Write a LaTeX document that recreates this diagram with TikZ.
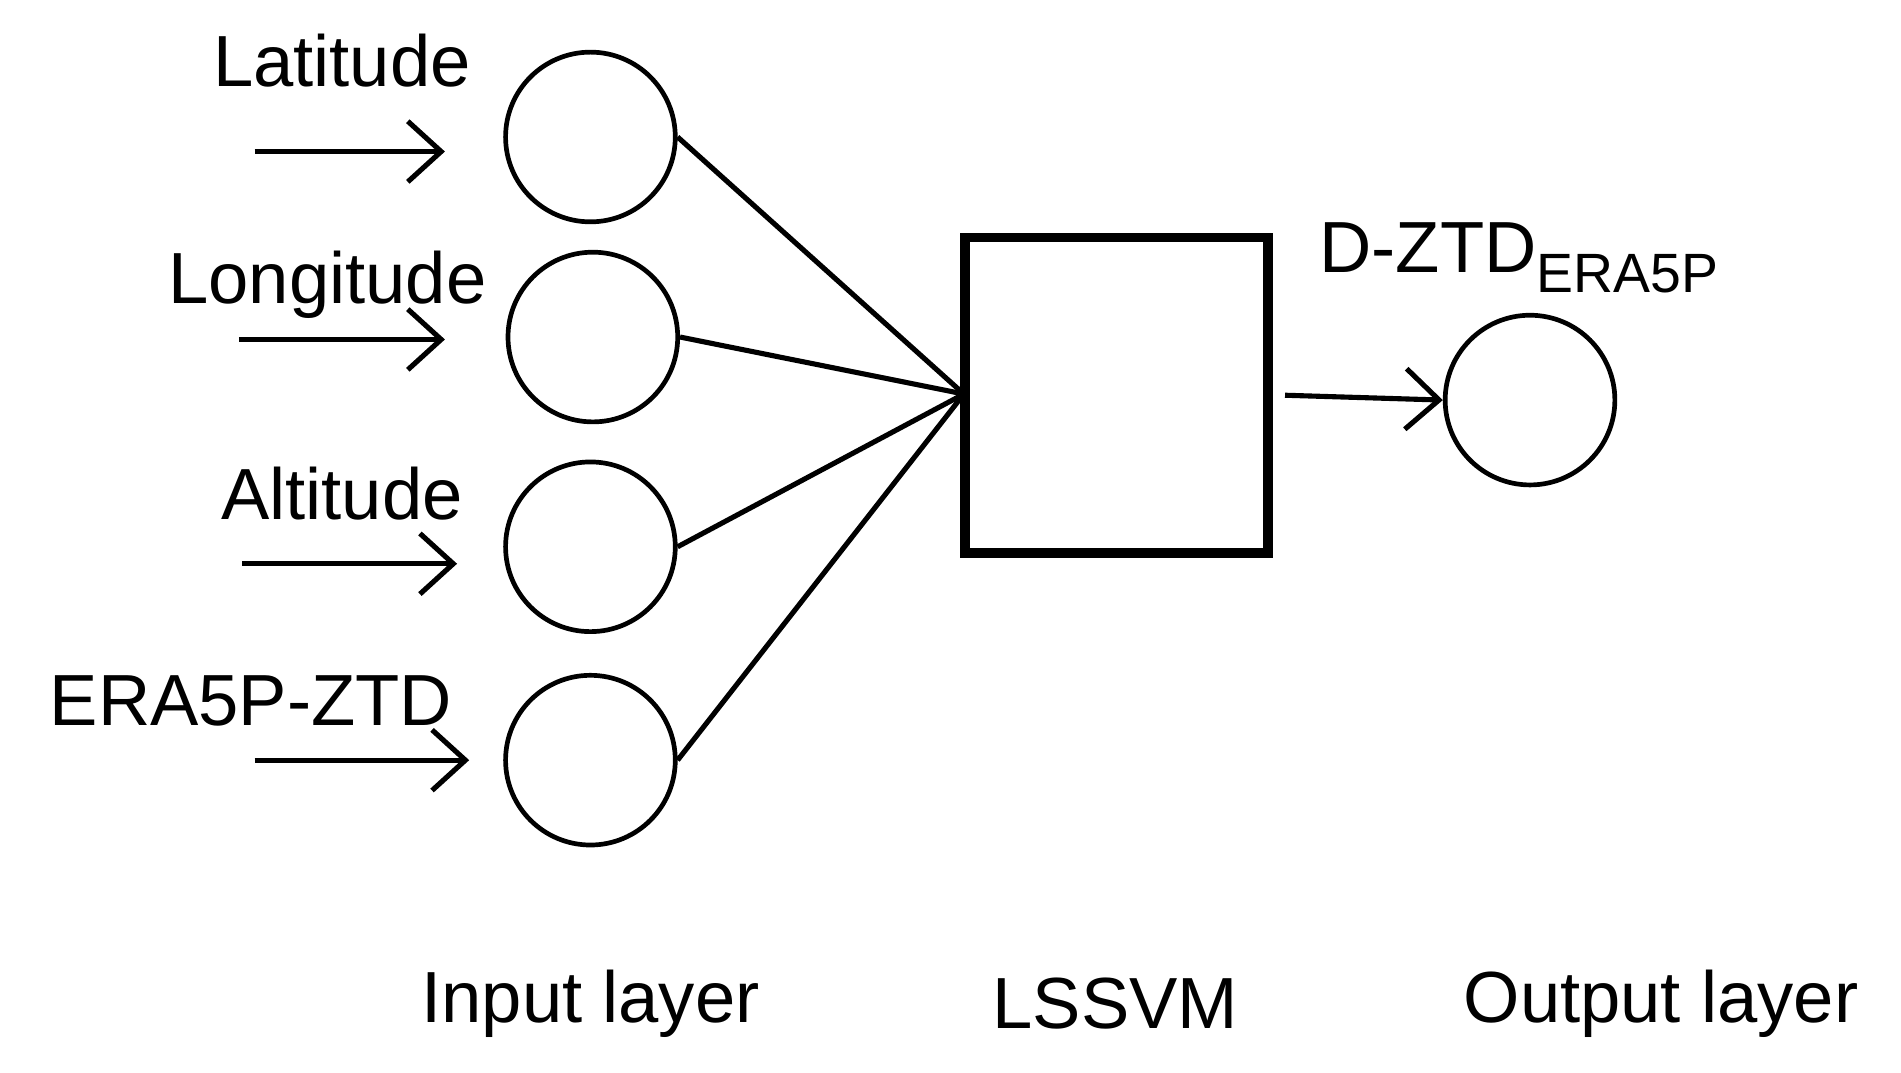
\documentclass[tikz,border=0pt]{standalone}
\usepackage{fontspec}
\setmainfont{Liberation Sans}
\usetikzlibrary{arrows.meta}
\begin{document}
\begin{tikzpicture}[x=0.02cm,y=-0.02cm,
  neuron/.style={draw,circle,minimum size=2.8cm,inner sep=0pt,line width=2.2pt},
  lbl/.style={font=\fontsize{34}{40}\selectfont,inner sep=0pt},
  arr/.style={line width=2.4pt,-{Straight Barb[length=0.55cm,width=1.0cm,line width=2.4pt]}},
  conn/.style={line width=2.4pt}]
\useasboundingbox (0,0) rectangle (1568,885);
\node[neuron] (i1) at (487,113) {};
\node[neuron] (i2) at (489,278) {};
\node[neuron] (i3) at (487,451) {};
\node[neuron] (i4) at (487,627) {};
\node[neuron] (o) at (1262,330) {};
\node[draw,line width=4.5pt,minimum width=5.0cm,minimum height=5.2cm,inner sep=0pt] (box) at (921,326) {};
\coordinate (bin) at (795,325);
\foreach \n in {i1,i2,i3,i4} \draw[conn] (\n.east) -- (bin);
\coordinate (s1) at (210,125); \coordinate (e1) at (367,125);
\coordinate (s2) at (197,280); \coordinate (e2) at (367,280);
\coordinate (s3) at (200,465); \coordinate (e3) at (377,465);
\coordinate (s4) at (210,627); \coordinate (e4) at (387,627);
\foreach \k in {1,2,3,4} \draw[arr] (s\k) -- (e\k);
\draw[arr] (box.east) ++(10,0) coordinate (bs) (bs) -- (o.west);
\node[lbl] (t1) at (282,50) {Latitude};
\node[lbl] (t2) at (270,235) {Longitude};
\node[lbl] (t3) at (282,407) {Altitude};
\node[lbl] (t4) at (207,578) {ERA5P-ZTD};
\node[lbl,anchor=west] (t5) at (1088,213) {D-ZTD\textsubscript{\fontsize{26}{30}\selectfont ERA5P}};
\node[lbl] (l1) at (487,828) {Input layer};
\node[lbl] (l2) at (920,828) {LSSVM};
\node[lbl] (l3) at (1370,828) {Output layer};
\end{tikzpicture}
\end{document}
